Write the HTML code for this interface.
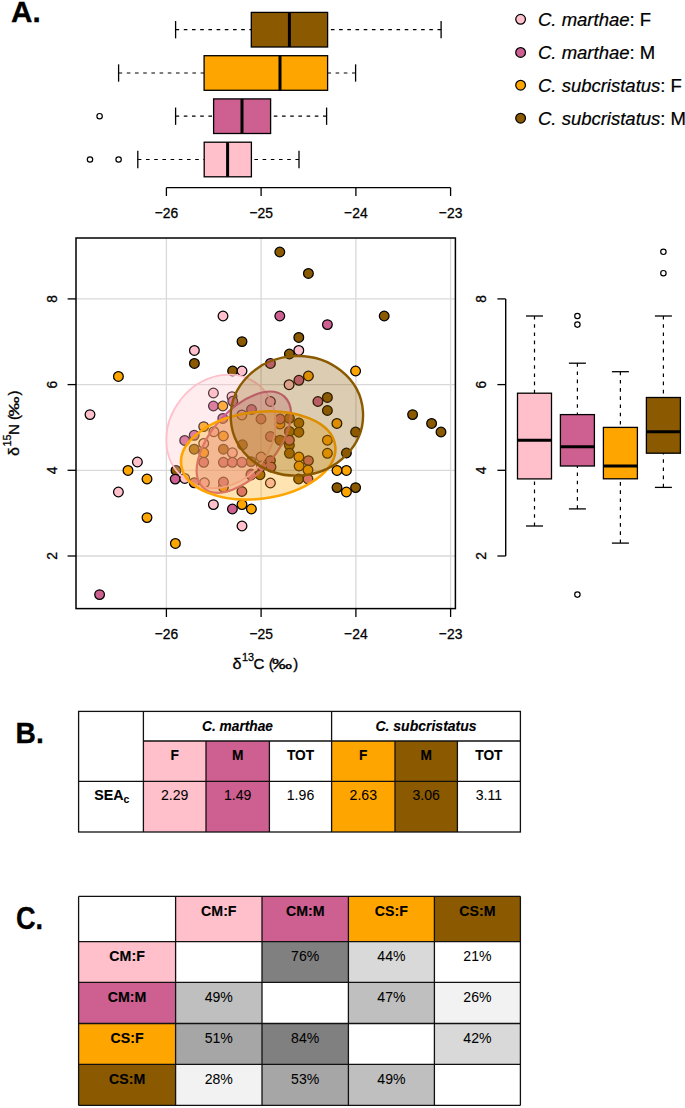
<!DOCTYPE html>
<html><head><meta charset="utf-8"><style>
html,body{margin:0;padding:0;background:#fff;}
body{width:685px;height:1108px;overflow:hidden;}
svg{display:block;}
text{fill:#000;stroke:#000;stroke-width:0.3px;}
text.v{stroke-width:0.05px;}
text.b{stroke-width:0.12px;}
text.l{stroke-width:0.2px;}
</style></head><body>
<svg width="685" height="1108" viewBox="0 0 685 1108" font-family="'Liberation Sans', sans-serif">
<rect x="0" y="0" width="685" height="1108" fill="#fff"/>
<text transform="translate(11.00 21.70) scale(0.99 1)" font-size="30" font-weight="bold">A.</text>
<text transform="translate(15.60 743.20) scale(0.94 1)" font-size="30" font-weight="bold">B.</text>
<text transform="translate(16.00 928.90) scale(0.89 1)" font-size="30.5" font-weight="bold">C.</text>
<line x1="175.6" y1="29.7" x2="251.3" y2="29.7" stroke="#000" stroke-width="1.2" stroke-dasharray="3.6 4.6"/>
<line x1="441.1" y1="29.7" x2="327.6" y2="29.7" stroke="#000" stroke-width="1.2" stroke-dasharray="3.6 4.6"/>
<line x1="175.6" y1="21.049999999999997" x2="175.6" y2="38.35" stroke="#000" stroke-width="1.3"/>
<line x1="441.1" y1="21.049999999999997" x2="441.1" y2="38.35" stroke="#000" stroke-width="1.3"/>
<rect x="251.3" y="12.399999999999999" width="76.30000000000001" height="34.6" fill="#8B5A00" stroke="#000" stroke-width="1.3"/>
<line x1="289.4" y1="12.399999999999999" x2="289.4" y2="47.0" stroke="#000" stroke-width="3"/>
<line x1="118.6" y1="73.0" x2="204.1" y2="73.0" stroke="#000" stroke-width="1.2" stroke-dasharray="3.6 4.6"/>
<line x1="355.6" y1="73.0" x2="327.6" y2="73.0" stroke="#000" stroke-width="1.2" stroke-dasharray="3.6 4.6"/>
<line x1="118.6" y1="64.35" x2="118.6" y2="81.65" stroke="#000" stroke-width="1.3"/>
<line x1="355.6" y1="64.35" x2="355.6" y2="81.65" stroke="#000" stroke-width="1.3"/>
<rect x="204.1" y="55.7" width="123.50000000000003" height="34.6" fill="#FFA500" stroke="#000" stroke-width="1.3"/>
<line x1="280.0" y1="55.7" x2="280.0" y2="90.3" stroke="#000" stroke-width="3"/>
<line x1="175.6" y1="116.2" x2="213.6" y2="116.2" stroke="#000" stroke-width="1.2" stroke-dasharray="3.6 4.6"/>
<line x1="326.6" y1="116.2" x2="270.6" y2="116.2" stroke="#000" stroke-width="1.2" stroke-dasharray="3.6 4.6"/>
<line x1="175.6" y1="107.55" x2="175.6" y2="124.85000000000001" stroke="#000" stroke-width="1.3"/>
<line x1="326.6" y1="107.55" x2="326.6" y2="124.85000000000001" stroke="#000" stroke-width="1.3"/>
<rect x="213.6" y="98.9" width="57.00000000000003" height="34.6" fill="#CD6090" stroke="#000" stroke-width="1.3"/>
<line x1="242.0" y1="98.9" x2="242.0" y2="133.5" stroke="#000" stroke-width="3"/>
<circle cx="99.6" cy="116.2" r="2.7" fill="none" stroke="#000" stroke-width="1.2"/>
<line x1="137.8" y1="159.5" x2="204.2" y2="159.5" stroke="#000" stroke-width="1.2" stroke-dasharray="3.6 4.6"/>
<line x1="299.0" y1="159.5" x2="251.4" y2="159.5" stroke="#000" stroke-width="1.2" stroke-dasharray="3.6 4.6"/>
<line x1="137.8" y1="150.85" x2="137.8" y2="168.15" stroke="#000" stroke-width="1.3"/>
<line x1="299.0" y1="150.85" x2="299.0" y2="168.15" stroke="#000" stroke-width="1.3"/>
<rect x="204.2" y="142.2" width="47.20000000000002" height="34.6" fill="#FFC0CB" stroke="#000" stroke-width="1.3"/>
<line x1="227.6" y1="142.2" x2="227.6" y2="176.8" stroke="#000" stroke-width="3"/>
<circle cx="90.0" cy="159.5" r="2.7" fill="none" stroke="#000" stroke-width="1.2"/>
<circle cx="118.6" cy="159.5" r="2.7" fill="none" stroke="#000" stroke-width="1.2"/>
<line x1="166.4" y1="187.6" x2="450.59000000000003" y2="187.6" stroke="#000" stroke-width="1.3"/>
<line x1="166.4" y1="187.6" x2="166.4" y2="196" stroke="#000" stroke-width="1.3"/>
<text transform="translate(166.40 217.50) scale(0.9 1)" font-size="15.4" text-anchor="middle">−26</text>
<line x1="261.1" y1="187.6" x2="261.1" y2="196" stroke="#000" stroke-width="1.3"/>
<text transform="translate(261.13 217.50) scale(0.9 1)" font-size="15.4" text-anchor="middle">−25</text>
<line x1="355.9" y1="187.6" x2="355.9" y2="196" stroke="#000" stroke-width="1.3"/>
<text transform="translate(355.86 217.50) scale(0.9 1)" font-size="15.4" text-anchor="middle">−24</text>
<line x1="450.6" y1="187.6" x2="450.6" y2="196" stroke="#000" stroke-width="1.3"/>
<text transform="translate(450.59 217.50) scale(0.9 1)" font-size="15.4" text-anchor="middle">−23</text>
<circle cx="520.6" cy="19.3" r="4.85" fill="#FFC0CB" stroke="#000" stroke-width="1.25"/>
<text transform="translate(538.00 25.50) scale(1.052 1)" font-size="17.6" class="l"><tspan font-style="italic">C. marthae</tspan>: F</text>
<circle cx="520.6" cy="52.4" r="4.85" fill="#CD6090" stroke="#000" stroke-width="1.25"/>
<text transform="translate(538.00 58.60) scale(1.052 1)" font-size="17.6" class="l"><tspan font-style="italic">C. marthae</tspan>: M</text>
<circle cx="520.6" cy="85.2" r="4.85" fill="#FFA500" stroke="#000" stroke-width="1.25"/>
<text transform="translate(538.00 91.70) scale(1.052 1)" font-size="17.6" class="l"><tspan font-style="italic">C. subcristatus</tspan>: F</text>
<circle cx="520.6" cy="118.2" r="4.85" fill="#8B5A00" stroke="#000" stroke-width="1.25"/>
<text transform="translate(538.00 124.80) scale(1.052 1)" font-size="17.6" class="l"><tspan font-style="italic">C. subcristatus</tspan>: M</text>
<line x1="166.4" y1="238" x2="166.4" y2="608.6" stroke="#d9d9d9" stroke-width="1.3"/>
<line x1="261.1" y1="238" x2="261.1" y2="608.6" stroke="#d9d9d9" stroke-width="1.3"/>
<line x1="355.9" y1="238" x2="355.9" y2="608.6" stroke="#d9d9d9" stroke-width="1.3"/>
<line x1="450.6" y1="238" x2="450.6" y2="608.6" stroke="#d9d9d9" stroke-width="1.3"/>
<line x1="76" y1="556.0" x2="455.4" y2="556.0" stroke="#d9d9d9" stroke-width="1.3"/>
<line x1="76" y1="470.3" x2="455.4" y2="470.3" stroke="#d9d9d9" stroke-width="1.3"/>
<line x1="76" y1="384.6" x2="455.4" y2="384.6" stroke="#d9d9d9" stroke-width="1.3"/>
<line x1="76" y1="298.9" x2="455.4" y2="298.9" stroke="#d9d9d9" stroke-width="1.3"/>
<circle cx="194.4" cy="350.4" r="4.85" fill="#FFC0CB" stroke="#000" stroke-width="1.25"/>
<circle cx="194.4" cy="363.4" r="4.85" fill="#8B5A00" stroke="#000" stroke-width="1.25"/>
<circle cx="118.4" cy="376.4" r="4.85" fill="#FFA500" stroke="#000" stroke-width="1.25"/>
<circle cx="279.8" cy="252" r="4.85" fill="#8B5A00" stroke="#000" stroke-width="1.25"/>
<circle cx="308.4" cy="273.4" r="4.85" fill="#8B5A00" stroke="#000" stroke-width="1.25"/>
<circle cx="223" cy="316" r="4.85" fill="#FFC0CB" stroke="#000" stroke-width="1.25"/>
<circle cx="279.8" cy="316" r="4.85" fill="#CD6090" stroke="#000" stroke-width="1.25"/>
<circle cx="327.4" cy="324.6" r="4.85" fill="#CD6090" stroke="#000" stroke-width="1.25"/>
<circle cx="242" cy="341.6" r="4.85" fill="#8B5A00" stroke="#000" stroke-width="1.25"/>
<circle cx="298.8" cy="337.4" r="4.85" fill="#8B5A00" stroke="#000" stroke-width="1.25"/>
<circle cx="298.8" cy="350.4" r="4.85" fill="#FFC0CB" stroke="#000" stroke-width="1.25"/>
<circle cx="289.4" cy="354" r="4.85" fill="#8B5A00" stroke="#000" stroke-width="1.25"/>
<circle cx="270.4" cy="363.4" r="4.85" fill="#CD6090" stroke="#000" stroke-width="1.25"/>
<circle cx="232.6" cy="371" r="4.85" fill="#8B5A00" stroke="#000" stroke-width="1.25"/>
<circle cx="242" cy="371" r="4.85" fill="#FFC0CB" stroke="#000" stroke-width="1.25"/>
<circle cx="308.4" cy="376" r="4.85" fill="#FFA500" stroke="#000" stroke-width="1.25"/>
<circle cx="384.2" cy="316" r="4.85" fill="#8B5A00" stroke="#000" stroke-width="1.25"/>
<circle cx="355.6" cy="371" r="4.85" fill="#FFA500" stroke="#000" stroke-width="1.25"/>
<circle cx="90" cy="414.6" r="4.85" fill="#FFC0CB" stroke="#000" stroke-width="1.25"/>
<circle cx="137.4" cy="462" r="4.85" fill="#FFC0CB" stroke="#000" stroke-width="1.25"/>
<circle cx="128" cy="470.4" r="4.85" fill="#FFA500" stroke="#000" stroke-width="1.25"/>
<circle cx="147" cy="479" r="4.85" fill="#FFA500" stroke="#000" stroke-width="1.25"/>
<circle cx="118.4" cy="492" r="4.85" fill="#FFC0CB" stroke="#000" stroke-width="1.25"/>
<circle cx="412.6" cy="414.6" r="4.85" fill="#8B5A00" stroke="#000" stroke-width="1.25"/>
<circle cx="431.6" cy="423.4" r="4.85" fill="#8B5A00" stroke="#000" stroke-width="1.25"/>
<circle cx="441" cy="432" r="4.85" fill="#8B5A00" stroke="#000" stroke-width="1.25"/>
<circle cx="355.6" cy="432" r="4.85" fill="#8B5A00" stroke="#000" stroke-width="1.25"/>
<circle cx="346.4" cy="453" r="4.85" fill="#8B5A00" stroke="#000" stroke-width="1.25"/>
<circle cx="346.4" cy="470.4" r="4.85" fill="#FFA500" stroke="#000" stroke-width="1.25"/>
<circle cx="337" cy="470.4" r="4.85" fill="#FFA500" stroke="#000" stroke-width="1.25"/>
<circle cx="355.6" cy="487.6" r="4.85" fill="#8B5A00" stroke="#000" stroke-width="1.25"/>
<circle cx="346.4" cy="492" r="4.85" fill="#FFA500" stroke="#000" stroke-width="1.25"/>
<circle cx="337" cy="487.6" r="4.85" fill="#8B5A00" stroke="#000" stroke-width="1.25"/>
<circle cx="147" cy="517.6" r="4.85" fill="#FFA500" stroke="#000" stroke-width="1.25"/>
<circle cx="175.4" cy="543.4" r="4.85" fill="#FFA500" stroke="#000" stroke-width="1.25"/>
<circle cx="99.6" cy="594.6" r="4.85" fill="#CD6090" stroke="#000" stroke-width="1.25"/>
<circle cx="213.4" cy="504.6" r="4.85" fill="#FFC0CB" stroke="#000" stroke-width="1.25"/>
<circle cx="232.4" cy="509" r="4.85" fill="#CD6090" stroke="#000" stroke-width="1.25"/>
<circle cx="242" cy="504.6" r="4.85" fill="#FFA500" stroke="#000" stroke-width="1.25"/>
<circle cx="251.4" cy="509" r="4.85" fill="#FFA500" stroke="#000" stroke-width="1.25"/>
<circle cx="242" cy="526" r="4.85" fill="#FFC0CB" stroke="#000" stroke-width="1.25"/>
<circle cx="213.4" cy="393" r="4.85" fill="#FFC0CB" stroke="#000" stroke-width="1.25"/>
<circle cx="232" cy="396.6" r="4.85" fill="#FFC0CB" stroke="#000" stroke-width="1.25"/>
<circle cx="232.8" cy="401.3" r="4.85" fill="#CD6090" stroke="#000" stroke-width="1.25"/>
<circle cx="213.4" cy="406" r="4.85" fill="#CD6090" stroke="#000" stroke-width="1.25"/>
<circle cx="222.8" cy="406" r="4.85" fill="#FFA500" stroke="#000" stroke-width="1.25"/>
<circle cx="222.8" cy="418.4" r="4.85" fill="#CD6090" stroke="#000" stroke-width="1.25"/>
<circle cx="203.7" cy="426.6" r="4.85" fill="#FFA500" stroke="#000" stroke-width="1.25"/>
<circle cx="194.2" cy="435.3" r="4.85" fill="#CD6090" stroke="#000" stroke-width="1.25"/>
<circle cx="184.7" cy="440.4" r="4.85" fill="#CD6090" stroke="#000" stroke-width="1.25"/>
<circle cx="194.2" cy="449.2" r="4.85" fill="#8B5A00" stroke="#000" stroke-width="1.25"/>
<circle cx="176" cy="470.4" r="4.85" fill="#8B5A00" stroke="#000" stroke-width="1.25"/>
<circle cx="175.2" cy="479.1" r="4.85" fill="#CD6090" stroke="#000" stroke-width="1.25"/>
<circle cx="184.7" cy="478.4" r="4.85" fill="#FFC0CB" stroke="#000" stroke-width="1.25"/>
<circle cx="289.1" cy="384.7" r="4.85" fill="#FFC0CB" stroke="#000" stroke-width="1.25"/>
<circle cx="298.9" cy="380.3" r="4.85" fill="#CD6090" stroke="#000" stroke-width="1.25"/>
<circle cx="317.9" cy="401.5" r="4.85" fill="#CD6090" stroke="#000" stroke-width="1.25"/>
<circle cx="327.4" cy="397.4" r="4.85" fill="#8B5A00" stroke="#000" stroke-width="1.25"/>
<circle cx="327.4" cy="410.5" r="4.85" fill="#8B5A00" stroke="#000" stroke-width="1.25"/>
<circle cx="336.9" cy="423.4" r="4.85" fill="#FFA500" stroke="#000" stroke-width="1.25"/>
<circle cx="327.4" cy="440.2" r="4.85" fill="#FFA500" stroke="#000" stroke-width="1.25"/>
<circle cx="327.4" cy="453.3" r="4.85" fill="#FFA500" stroke="#000" stroke-width="1.25"/>
<circle cx="270.4" cy="401.5" r="4.85" fill="#FFC0CB" stroke="#000" stroke-width="1.25"/>
<circle cx="251.5" cy="409.5" r="4.85" fill="#CD6090" stroke="#000" stroke-width="1.25"/>
<circle cx="280" cy="424" r="4.85" fill="#FFA500" stroke="#000" stroke-width="1.25"/>
<circle cx="289.4" cy="418.3" r="4.85" fill="#8B5A00" stroke="#000" stroke-width="1.25"/>
<circle cx="298.9" cy="423" r="4.85" fill="#8B5A00" stroke="#000" stroke-width="1.25"/>
<circle cx="289.4" cy="431.4" r="4.85" fill="#8B5A00" stroke="#000" stroke-width="1.25"/>
<circle cx="298.9" cy="432.2" r="4.85" fill="#8B5A00" stroke="#000" stroke-width="1.25"/>
<circle cx="280" cy="440.2" r="4.85" fill="#8B5A00" stroke="#000" stroke-width="1.25"/>
<circle cx="289.4" cy="445.3" r="4.85" fill="#8B5A00" stroke="#000" stroke-width="1.25"/>
<circle cx="289.4" cy="453.3" r="4.85" fill="#8B5A00" stroke="#000" stroke-width="1.25"/>
<circle cx="298.9" cy="457" r="4.85" fill="#FFA500" stroke="#000" stroke-width="1.25"/>
<circle cx="299.1" cy="466" r="4.85" fill="#FFA500" stroke="#000" stroke-width="1.25"/>
<circle cx="308.4" cy="460.6" r="4.85" fill="#CD6090" stroke="#000" stroke-width="1.25"/>
<circle cx="261" cy="457" r="4.85" fill="#FFC0CB" stroke="#000" stroke-width="1.25"/>
<circle cx="270.4" cy="460.6" r="4.85" fill="#CD6090" stroke="#000" stroke-width="1.25"/>
<circle cx="203.7" cy="443.4" r="4.85" fill="#FFC0CB" stroke="#000" stroke-width="1.25"/>
<circle cx="203.7" cy="452.8" r="4.85" fill="#FFA500" stroke="#000" stroke-width="1.25"/>
<circle cx="213.9" cy="431.7" r="4.85" fill="#FFC0CB" stroke="#000" stroke-width="1.25"/>
<circle cx="223.4" cy="436" r="4.85" fill="#FFA500" stroke="#000" stroke-width="1.25"/>
<circle cx="223.4" cy="449.2" r="4.85" fill="#8B5A00" stroke="#000" stroke-width="1.25"/>
<circle cx="232.4" cy="452.8" r="4.85" fill="#FFC0CB" stroke="#000" stroke-width="1.25"/>
<circle cx="242.4" cy="444.8" r="4.85" fill="#8B5A00" stroke="#000" stroke-width="1.25"/>
<circle cx="241.9" cy="414.9" r="4.85" fill="#FFC0CB" stroke="#000" stroke-width="1.25"/>
<circle cx="204.4" cy="482.8" r="4.85" fill="#FFC0CB" stroke="#000" stroke-width="1.25"/>
<circle cx="223.4" cy="487.2" r="4.85" fill="#FFA500" stroke="#000" stroke-width="1.25"/>
<circle cx="241.9" cy="491.5" r="4.85" fill="#CD6090" stroke="#000" stroke-width="1.25"/>
<circle cx="251.1" cy="461.6" r="4.85" fill="#8B5A00" stroke="#000" stroke-width="1.25"/>
<circle cx="251.1" cy="474" r="4.85" fill="#FFC0CB" stroke="#000" stroke-width="1.25"/>
<circle cx="260" cy="474.7" r="4.85" fill="#8B5A00" stroke="#000" stroke-width="1.25"/>
<circle cx="251" cy="475" r="4.85" fill="#CD6090" stroke="#000" stroke-width="1.25"/>
<circle cx="270.4" cy="483" r="4.85" fill="#FFC0CB" stroke="#000" stroke-width="1.25"/>
<circle cx="298.6" cy="479" r="4.85" fill="#8B5A00" stroke="#000" stroke-width="1.25"/>
<circle cx="308" cy="479" r="4.85" fill="#CD6090" stroke="#000" stroke-width="1.25"/>
<circle cx="308" cy="470" r="4.85" fill="#FFA500" stroke="#000" stroke-width="1.25"/>
<circle cx="261" cy="419" r="4.85" fill="#CD6090" stroke="#000" stroke-width="1.25"/>
<circle cx="280" cy="419" r="4.85" fill="#CD6090" stroke="#000" stroke-width="1.25"/>
<circle cx="270.4" cy="436.5" r="4.85" fill="#CD6090" stroke="#000" stroke-width="1.25"/>
<circle cx="289.4" cy="440.2" r="4.85" fill="#CD6090" stroke="#000" stroke-width="1.25"/>
<circle cx="203.7" cy="462.3" r="4.85" fill="#CD6090" stroke="#000" stroke-width="1.25"/>
<circle cx="223.4" cy="462.3" r="4.85" fill="#CD6090" stroke="#000" stroke-width="1.25"/>
<circle cx="232.4" cy="462.3" r="4.85" fill="#CD6090" stroke="#000" stroke-width="1.25"/>
<circle cx="241.9" cy="462.3" r="4.85" fill="#CD6090" stroke="#000" stroke-width="1.25"/>
<circle cx="194.2" cy="482.8" r="4.85" fill="#CD6090" stroke="#000" stroke-width="1.25"/>
<circle cx="223.4" cy="482" r="4.85" fill="#CD6090" stroke="#000" stroke-width="1.25"/>
<circle cx="271" cy="467" r="4.85" fill="#CD6090" stroke="#000" stroke-width="1.25"/>
<circle cx="261.5" cy="466" r="4.85" fill="#CD6090" stroke="#000" stroke-width="1.25"/>
<ellipse cx="221.0" cy="431.4" rx="59.8" ry="51.3" transform="rotate(-51.9 221.0 431.4)" fill="#FFC0CB" fill-opacity="0.3" stroke="#FFC0CB" stroke-width="1.8"/>
<ellipse cx="243.8" cy="442.2" rx="61.0" ry="32.4" transform="rotate(-48.6 243.8 442.2)" fill="#CD6090" fill-opacity="0.3" stroke="#CD6090" stroke-width="2.2"/>
<ellipse cx="258.2" cy="455.4" rx="77.6" ry="43.4" transform="rotate(-7.1 258.2 455.4)" fill="#FFA500" fill-opacity="0.3" stroke="#FFA500" stroke-width="2.6"/>
<ellipse cx="296.9" cy="415.8" rx="66.2" ry="59.8" transform="rotate(-3.8 296.9 415.8)" fill="#8B5A00" fill-opacity="0.3" stroke="#8B5A00" stroke-width="2.4"/>
<rect x="76" y="238" width="379.4" height="370.6" fill="none" stroke="#000" stroke-width="1.5"/>
<line x1="67.6" y1="556.0" x2="76" y2="556.0" stroke="#000" stroke-width="1.3"/>
<text transform="translate(56.60 556.00) rotate(-90) scale(0.9 1)" font-size="15.4" text-anchor="middle">2</text>
<line x1="67.6" y1="470.3" x2="76" y2="470.3" stroke="#000" stroke-width="1.3"/>
<text transform="translate(56.60 470.30) rotate(-90) scale(0.9 1)" font-size="15.4" text-anchor="middle">4</text>
<line x1="67.6" y1="384.6" x2="76" y2="384.6" stroke="#000" stroke-width="1.3"/>
<text transform="translate(56.60 384.60) rotate(-90) scale(0.9 1)" font-size="15.4" text-anchor="middle">6</text>
<line x1="67.6" y1="298.9" x2="76" y2="298.9" stroke="#000" stroke-width="1.3"/>
<text transform="translate(56.60 298.90) rotate(-90) scale(0.9 1)" font-size="15.4" text-anchor="middle">8</text>
<line x1="166.4" y1="608.6" x2="166.4" y2="617" stroke="#000" stroke-width="1.3"/>
<text transform="translate(166.40 639.40) scale(0.9 1)" font-size="15.4" text-anchor="middle">−26</text>
<line x1="261.1" y1="608.6" x2="261.1" y2="617" stroke="#000" stroke-width="1.3"/>
<text transform="translate(261.13 639.40) scale(0.9 1)" font-size="15.4" text-anchor="middle">−25</text>
<line x1="355.9" y1="608.6" x2="355.9" y2="617" stroke="#000" stroke-width="1.3"/>
<text transform="translate(355.86 639.40) scale(0.9 1)" font-size="15.4" text-anchor="middle">−24</text>
<line x1="450.6" y1="608.6" x2="450.6" y2="617" stroke="#000" stroke-width="1.3"/>
<text transform="translate(450.59 639.40) scale(0.9 1)" font-size="15.4" text-anchor="middle">−23</text>
<text transform="translate(232.60 669.30) scale(1.05 1)" font-size="15.4">δ</text>
<text transform="translate(242.00 660.90)" font-size="10.8">13</text>
<text transform="translate(253.60 669.30) scale(1.02 1)" font-size="14.8">C (</text>
<text transform="translate(272.00 669.30) scale(1.36 1)" font-size="14.8">‰</text>
<text transform="translate(293.20 669.30)" font-size="14.8">)</text>
<text transform="translate(18.90 456.00) rotate(-90) scale(1.05 1)" font-size="15.4">δ</text>
<text transform="translate(10.50 446.60) rotate(-90)" font-size="10.8">15</text>
<text transform="translate(18.90 435.00) rotate(-90) scale(1.02 1)" font-size="14.8">N (</text>
<text transform="translate(18.90 416.60) rotate(-90) scale(1.36 1)" font-size="14.8">‰</text>
<text transform="translate(18.90 395.40) rotate(-90)" font-size="14.8">)</text>
<line x1="505.7" y1="298.9" x2="505.7" y2="556.0" stroke="#000" stroke-width="1.4"/>
<line x1="497.4" y1="556.0" x2="505.7" y2="556.0" stroke="#000" stroke-width="1.3"/>
<text transform="translate(486.20 556.00) rotate(-90) scale(0.9 1)" font-size="15.4" text-anchor="middle">2</text>
<line x1="497.4" y1="470.3" x2="505.7" y2="470.3" stroke="#000" stroke-width="1.3"/>
<text transform="translate(486.20 470.30) rotate(-90) scale(0.9 1)" font-size="15.4" text-anchor="middle">4</text>
<line x1="497.4" y1="384.6" x2="505.7" y2="384.6" stroke="#000" stroke-width="1.3"/>
<text transform="translate(486.20 384.60) rotate(-90) scale(0.9 1)" font-size="15.4" text-anchor="middle">6</text>
<line x1="497.4" y1="298.9" x2="505.7" y2="298.9" stroke="#000" stroke-width="1.3"/>
<text transform="translate(486.20 298.90) rotate(-90) scale(0.9 1)" font-size="15.4" text-anchor="middle">8</text>
<line x1="534.5" y1="526.0" x2="534.5" y2="478.9" stroke="#000" stroke-width="1.2" stroke-dasharray="3.6 4.6"/>
<line x1="534.5" y1="316.0" x2="534.5" y2="393.2" stroke="#000" stroke-width="1.2" stroke-dasharray="3.6 4.6"/>
<line x1="526.0" y1="526.0" x2="543.0" y2="526.0" stroke="#000" stroke-width="1.3"/>
<line x1="526.0" y1="316.0" x2="543.0" y2="316.0" stroke="#000" stroke-width="1.3"/>
<rect x="517.5" y="393.2" width="34" height="85.7" fill="#FFC0CB" stroke="#000" stroke-width="1.3"/>
<line x1="517.5" y1="440.3" x2="551.5" y2="440.3" stroke="#000" stroke-width="3"/>
<line x1="577.4" y1="508.9" x2="577.4" y2="466.0" stroke="#000" stroke-width="1.2" stroke-dasharray="3.6 4.6"/>
<line x1="577.4" y1="363.2" x2="577.4" y2="414.6" stroke="#000" stroke-width="1.2" stroke-dasharray="3.6 4.6"/>
<line x1="568.9" y1="508.9" x2="585.9" y2="508.9" stroke="#000" stroke-width="1.3"/>
<line x1="568.9" y1="363.2" x2="585.9" y2="363.2" stroke="#000" stroke-width="1.3"/>
<rect x="560.4" y="414.6" width="34" height="51.4" fill="#CD6090" stroke="#000" stroke-width="1.3"/>
<line x1="560.4" y1="446.7" x2="594.4" y2="446.7" stroke="#000" stroke-width="3"/>
<circle cx="577.4" cy="316.0" r="2.7" fill="none" stroke="#000" stroke-width="1.2"/>
<circle cx="577.4" cy="324.6" r="2.7" fill="none" stroke="#000" stroke-width="1.2"/>
<circle cx="577.4" cy="594.6" r="2.7" fill="none" stroke="#000" stroke-width="1.2"/>
<line x1="620.4" y1="543.1" x2="620.4" y2="478.9" stroke="#000" stroke-width="1.2" stroke-dasharray="3.6 4.6"/>
<line x1="620.4" y1="371.7" x2="620.4" y2="427.4" stroke="#000" stroke-width="1.2" stroke-dasharray="3.6 4.6"/>
<line x1="611.9" y1="543.1" x2="628.9" y2="543.1" stroke="#000" stroke-width="1.3"/>
<line x1="611.9" y1="371.7" x2="628.9" y2="371.7" stroke="#000" stroke-width="1.3"/>
<rect x="603.4" y="427.4" width="34" height="51.4" fill="#FFA500" stroke="#000" stroke-width="1.3"/>
<line x1="603.4" y1="466.0" x2="637.4" y2="466.0" stroke="#000" stroke-width="3"/>
<line x1="663.4" y1="487.4" x2="663.4" y2="453.2" stroke="#000" stroke-width="1.2" stroke-dasharray="3.6 4.6"/>
<line x1="663.4" y1="316.0" x2="663.4" y2="397.5" stroke="#000" stroke-width="1.2" stroke-dasharray="3.6 4.6"/>
<line x1="654.9" y1="487.4" x2="671.9" y2="487.4" stroke="#000" stroke-width="1.3"/>
<line x1="654.9" y1="316.0" x2="671.9" y2="316.0" stroke="#000" stroke-width="1.3"/>
<rect x="646.4" y="397.5" width="34" height="55.7" fill="#8B5A00" stroke="#000" stroke-width="1.3"/>
<line x1="646.4" y1="431.7" x2="680.4" y2="431.7" stroke="#000" stroke-width="3"/>
<circle cx="663.4" cy="251.8" r="2.7" fill="none" stroke="#000" stroke-width="1.2"/>
<circle cx="663.4" cy="273.2" r="2.7" fill="none" stroke="#000" stroke-width="1.2"/>
<rect x="143.4" y="741.0" width="62.599999999999994" height="91.0" fill="#FFC0CB"/>
<rect x="206.0" y="741.0" width="63.39999999999998" height="91.0" fill="#CD6090"/>
<rect x="331.6" y="741.0" width="63.39999999999998" height="91.0" fill="#FFA500"/>
<rect x="395.0" y="741.0" width="62.39999999999998" height="91.0" fill="#8B5A00"/>
<rect x="78.6" y="711.4" width="441.79999999999995" height="120.60000000000002" fill="none" stroke="#111" stroke-width="1.3"/>
<line x1="143.4" y1="741.0" x2="520.4" y2="741.0" stroke="#111" stroke-width="1.3"/>
<line x1="78.6" y1="781.4" x2="520.4" y2="781.4" stroke="#111" stroke-width="1.3"/>
<line x1="143.4" y1="711.4" x2="143.4" y2="832.0" stroke="#111" stroke-width="1.3"/>
<line x1="331.6" y1="711.4" x2="331.6" y2="832.0" stroke="#111" stroke-width="1.3"/>
<line x1="206.0" y1="741.0" x2="206.0" y2="832.0" stroke="#111" stroke-width="1.3"/>
<line x1="269.4" y1="741.0" x2="269.4" y2="832.0" stroke="#111" stroke-width="1.3"/>
<line x1="395.0" y1="741.0" x2="395.0" y2="832.0" stroke="#111" stroke-width="1.3"/>
<line x1="457.4" y1="741.0" x2="457.4" y2="832.0" stroke="#111" stroke-width="1.3"/>
<text transform="translate(237.50 730.50) scale(0.98 1)" font-size="14.0" font-weight="bold" font-style="italic" text-anchor="middle" class="b">C. marthae</text>
<text transform="translate(426.00 730.50)" font-size="14.0" font-weight="bold" font-style="italic" text-anchor="middle" class="b">C. subcristatus</text>
<text transform="translate(174.70 760.20) scale(0.98 1)" font-size="14.0" font-weight="bold" text-anchor="middle" class="b">F</text>
<text transform="translate(237.70 760.20) scale(0.98 1)" font-size="14.0" font-weight="bold" text-anchor="middle" class="b">M</text>
<text transform="translate(300.50 760.20) scale(0.98 1)" font-size="14.0" font-weight="bold" text-anchor="middle" class="b">TOT</text>
<text transform="translate(363.30 760.20) scale(0.98 1)" font-size="14.0" font-weight="bold" text-anchor="middle" class="b">F</text>
<text transform="translate(426.20 760.20) scale(0.98 1)" font-size="14.0" font-weight="bold" text-anchor="middle" class="b">M</text>
<text transform="translate(488.90 760.20) scale(0.98 1)" font-size="14.0" font-weight="bold" text-anchor="middle" class="b">TOT</text>
<text transform="translate(174.70 800.40) scale(0.94 1)" font-size="15.0" text-anchor="middle" class="v">2.29</text>
<text transform="translate(237.70 800.40) scale(0.94 1)" font-size="15.0" text-anchor="middle" class="v">1.49</text>
<text transform="translate(300.50 800.40) scale(0.94 1)" font-size="15.0" text-anchor="middle" class="v">1.96</text>
<text transform="translate(363.30 800.40) scale(0.94 1)" font-size="15.0" text-anchor="middle" class="v">2.63</text>
<text transform="translate(426.20 800.40) scale(0.94 1)" font-size="15.0" text-anchor="middle" class="v">3.06</text>
<text transform="translate(488.90 800.40) scale(0.94 1)" font-size="15.0" text-anchor="middle" class="v">3.11</text>
<text transform="translate(111.80 800.20)" font-size="14.2" font-weight="bold" text-anchor="middle" class="b">SEA<tspan font-size="10.5" dy="2.8">c</tspan></text>
<rect x="175.6" y="896.4" width="86.4" height="45.200000000000045" fill="#FFC0CB"/>
<rect x="78.6" y="941.6" width="97.0" height="40.799999999999955" fill="#FFC0CB"/>
<rect x="262.0" y="896.4" width="86.39999999999998" height="45.200000000000045" fill="#CD6090"/>
<rect x="78.6" y="982.4" width="97.0" height="41.10000000000002" fill="#CD6090"/>
<rect x="348.4" y="896.4" width="86.0" height="45.200000000000045" fill="#FFA500"/>
<rect x="78.6" y="1023.5" width="97.0" height="40.90000000000009" fill="#FFA500"/>
<rect x="434.4" y="896.4" width="86.0" height="45.200000000000045" fill="#8B5A00"/>
<rect x="78.6" y="1064.4" width="97.0" height="41.0" fill="#8B5A00"/>
<rect x="262.0" y="941.6" width="86.39999999999998" height="40.799999999999955" fill="#808080"/>
<rect x="348.4" y="941.6" width="86.0" height="40.799999999999955" fill="#d9d9d9"/>
<rect x="434.4" y="941.6" width="86.0" height="40.799999999999955" fill="#ffffff"/>
<rect x="175.6" y="982.4" width="86.4" height="41.10000000000002" fill="#bfbfbf"/>
<rect x="348.4" y="982.4" width="86.0" height="41.10000000000002" fill="#bfbfbf"/>
<rect x="434.4" y="982.4" width="86.0" height="41.10000000000002" fill="#f2f2f2"/>
<rect x="175.6" y="1023.5" width="86.4" height="40.90000000000009" fill="#a6a6a6"/>
<rect x="262.0" y="1023.5" width="86.39999999999998" height="40.90000000000009" fill="#808080"/>
<rect x="434.4" y="1023.5" width="86.0" height="40.90000000000009" fill="#d9d9d9"/>
<rect x="175.6" y="1064.4" width="86.4" height="41.0" fill="#f2f2f2"/>
<rect x="262.0" y="1064.4" width="86.39999999999998" height="41.0" fill="#a6a6a6"/>
<rect x="348.4" y="1064.4" width="86.0" height="41.0" fill="#bfbfbf"/>
<line x1="78.6" y1="896.4" x2="78.6" y2="1105.4" stroke="#111" stroke-width="1.3"/>
<line x1="175.6" y1="896.4" x2="175.6" y2="1105.4" stroke="#111" stroke-width="1.3"/>
<line x1="262.0" y1="896.4" x2="262.0" y2="1105.4" stroke="#111" stroke-width="1.3"/>
<line x1="348.4" y1="896.4" x2="348.4" y2="1105.4" stroke="#111" stroke-width="1.3"/>
<line x1="434.4" y1="896.4" x2="434.4" y2="1105.4" stroke="#111" stroke-width="1.3"/>
<line x1="520.4" y1="896.4" x2="520.4" y2="1105.4" stroke="#111" stroke-width="1.3"/>
<line x1="78.6" y1="896.4" x2="520.4" y2="896.4" stroke="#111" stroke-width="1.3"/>
<line x1="78.6" y1="941.6" x2="520.4" y2="941.6" stroke="#111" stroke-width="1.3"/>
<line x1="78.6" y1="982.4" x2="520.4" y2="982.4" stroke="#111" stroke-width="1.3"/>
<line x1="78.6" y1="1023.5" x2="520.4" y2="1023.5" stroke="#111" stroke-width="1.3"/>
<line x1="78.6" y1="1064.4" x2="520.4" y2="1064.4" stroke="#111" stroke-width="1.3"/>
<line x1="78.6" y1="1105.4" x2="520.4" y2="1105.4" stroke="#111" stroke-width="1.3"/>
<text transform="translate(218.80 915.50)" font-size="14.2" font-weight="bold" text-anchor="middle" class="b">CM:F</text>
<text transform="translate(127.10 961.20)" font-size="14.2" font-weight="bold" text-anchor="middle" class="b">CM:F</text>
<text transform="translate(305.20 915.50)" font-size="14.2" font-weight="bold" text-anchor="middle" class="b">CM:M</text>
<text transform="translate(127.10 1002.00)" font-size="14.2" font-weight="bold" text-anchor="middle" class="b">CM:M</text>
<text transform="translate(391.40 915.50)" font-size="14.2" font-weight="bold" text-anchor="middle" class="b">CS:F</text>
<text transform="translate(127.10 1043.10)" font-size="14.2" font-weight="bold" text-anchor="middle" class="b">CS:F</text>
<text transform="translate(477.40 915.50)" font-size="14.2" font-weight="bold" text-anchor="middle" class="b">CS:M</text>
<text transform="translate(127.10 1084.00)" font-size="14.2" font-weight="bold" text-anchor="middle" class="b">CS:M</text>
<text transform="translate(305.20 961.30) scale(0.92 1)" font-size="15.3" text-anchor="middle" class="v">76%</text>
<text transform="translate(391.40 961.30) scale(0.92 1)" font-size="15.3" text-anchor="middle" class="v">44%</text>
<text transform="translate(477.40 961.30) scale(0.92 1)" font-size="15.3" text-anchor="middle" class="v">21%</text>
<text transform="translate(218.80 1002.10) scale(0.92 1)" font-size="15.3" text-anchor="middle" class="v">49%</text>
<text transform="translate(391.40 1002.10) scale(0.92 1)" font-size="15.3" text-anchor="middle" class="v">47%</text>
<text transform="translate(477.40 1002.10) scale(0.92 1)" font-size="15.3" text-anchor="middle" class="v">26%</text>
<text transform="translate(218.80 1043.20) scale(0.92 1)" font-size="15.3" text-anchor="middle" class="v">51%</text>
<text transform="translate(305.20 1043.20) scale(0.92 1)" font-size="15.3" text-anchor="middle" class="v">84%</text>
<text transform="translate(477.40 1043.20) scale(0.92 1)" font-size="15.3" text-anchor="middle" class="v">42%</text>
<text transform="translate(218.80 1084.10) scale(0.92 1)" font-size="15.3" text-anchor="middle" class="v">28%</text>
<text transform="translate(305.20 1084.10) scale(0.92 1)" font-size="15.3" text-anchor="middle" class="v">53%</text>
<text transform="translate(391.40 1084.10) scale(0.92 1)" font-size="15.3" text-anchor="middle" class="v">49%</text>
</svg>
</body></html>
